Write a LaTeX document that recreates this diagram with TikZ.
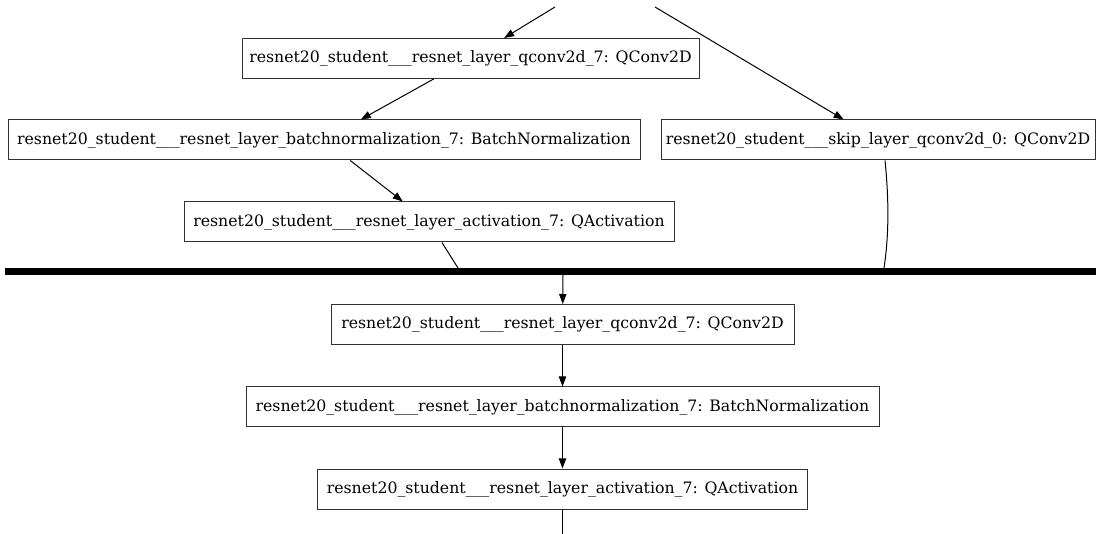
\documentclass[tikz,border=0pt]{standalone}
\usepackage{fontspec}
\setmainfont{DejaVu Serif}
\usetikzlibrary{arrows.meta, positioning, calc}

\begin{document}
\begin{tikzpicture}[
  x=0.75pt, y=-0.75pt,
  layer/.style={draw=black!80, line width=0.75pt, inner sep=0pt, minimum height=30pt, align=center, font=\fontsize{11.8}{14}\selectfont},
  edge/.style={line width=0.75pt, -{Triangle[length=7.5pt, width=5.5pt]}},
  plain/.style={line width=0.75pt},
]
  \useasboundingbox (0,0) rectangle (1096,534);

  % Upper block
  \coordinate (inA) at (555,7);
  \coordinate (inB) at (655,7);
  \node[layer, minimum width=457*0.75pt] (qc) at (470.5,58.5) {resnet20\_student\_\_\_resnet\_layer\_qconv2d\_7: QConv2D};
  \node[layer, minimum width=632*0.75pt] (bn) at (324,140) {resnet20\_student\_\_\_resnet\_layer\_batchnormalization\_7: BatchNormalization};
  \node[layer, minimum width=434*0.75pt] (skip) at (878,140) {resnet20\_student\_\_\_skip\_layer\_qconv2d\_0: QConv2D};
  \node[layer, minimum width=490*0.75pt] (act) at (429,222) {resnet20\_student\_\_\_resnet\_layer\_activation\_7: QActivation};

  \draw[edge] (inA) -- (qc);
  \draw[edge] (inB) -- (skip);
  \draw[edge] (qc) -- (bn);
  \draw[edge] (bn) -- (act);

  % Merge bar
  \coordinate (barL) at (5,272);
  \coordinate (barR) at (1096,272);
  \coordinate (j1) at (458,268);
  \coordinate (j2) at (884,268);
  \coordinate (j3) at (563,275);
  \draw[line width=5.25pt] (barL) -- (barR);
  \draw[plain] (act) -- (j1);
  \draw[plain] ([xshift=5.25pt]skip.south) .. controls (889,200) and (889,235) .. (j2);

  % Lower block
  \node[layer, minimum width=463*0.75pt] (qc2) at (562.5,324.5) {resnet20\_student\_\_\_resnet\_layer\_qconv2d\_7: QConv2D};
  \node[layer, minimum width=633*0.75pt] (bn2) at (562.5,407) {resnet20\_student\_\_\_resnet\_layer\_batchnormalization\_7: BatchNormalization};
  \node[layer, minimum width=490*0.75pt] (act2) at (562.5,489) {resnet20\_student\_\_\_resnet\_layer\_activation\_7: QActivation};
  \coordinate (out) at (562.5,534);

  \draw[edge] (j3) -- (qc2);
  \draw[edge] (qc2) -- (bn2);
  \draw[edge] (bn2) -- (act2);
  \draw[plain] (act2) -- (out);
\end{tikzpicture}
\end{document}
